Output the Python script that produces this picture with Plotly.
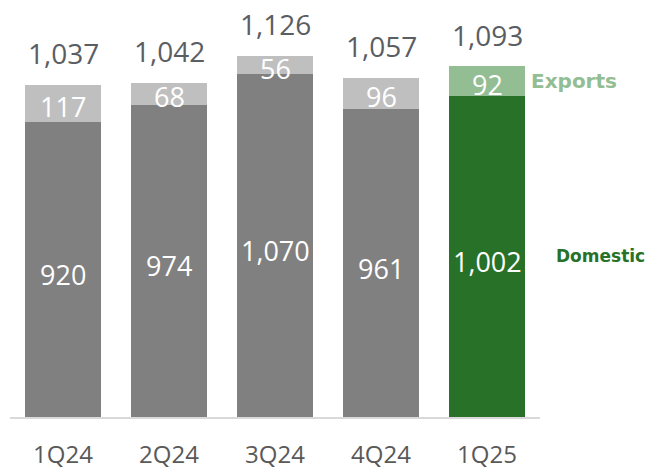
import plotly.graph_objects as go

categories = ["1Q24", "2Q24", "3Q24", "4Q24", "1Q25"]
domestic = [920, 974, 1070, 961, 1002]
exports = [117, 68, 56, 96, 92]
totals = [1037, 1042, 1126, 1057, 1093]

dom_colors = ["#808080"] * 4 + ["#277228"]
exp_colors = ["#bfbfbf"] * 4 + ["#93bd93"]

def fmt(v):
    return f"{v:,}"

fig = go.Figure()
fig.add_trace(go.Bar(x=categories, y=domestic, marker=dict(color=dom_colors, line=dict(width=0)),
                     hoverinfo="skip", name="Domestic"))
fig.add_trace(go.Bar(x=categories, y=exports, marker=dict(color=exp_colors, line=dict(width=0)),
                     hoverinfo="skip", name="Exports"))

lab_font = "Open Sans"
# domestic labels
for c, d in zip(categories, domestic):
    fig.add_annotation(x=c, y=d / 2, text=fmt(d), showarrow=False, yshift=-5,
                       font=dict(family=lab_font, size=27, color="white"))
# exports labels
for c, d, e in zip(categories, domestic, exports):
    fig.add_annotation(x=c, y=d + e / 2, text=fmt(e), showarrow=False, yshift=-3,
                       font=dict(family=lab_font, size=27, color="white"))

for c, t in zip(categories, totals):
    fig.add_annotation(x=c, y=t, text=fmt(t), showarrow=False, yanchor="bottom", yshift=11,
                       font=dict(family=lab_font, size=28, color="#5a5d62"))

# series labels on the right
last = categories[-1]
fig.add_annotation(x=last, y=domestic[-1] + exports[-1] / 2, text="<b>Exports</b>", showarrow=False,
                   xanchor="left", xshift=42, font=dict(family="DejaVu Sans", size=20, color="#93bd93"))
fig.add_annotation(x=last, y=domestic[-1] / 2, text="<b>Domestic</b>", showarrow=False,
                   xanchor="left", xshift=67, font=dict(family="DejaVu Sans", size=17, color="#277228"))

fig.update_layout(
    width=656, height=469, barmode="stack", bargap=0.28,
    margin=dict(l=10, r=116, t=10, b=52, autoexpand=False),
    plot_bgcolor="white", paper_bgcolor="white", showlegend=False,
    xaxis=dict(range=[-0.5, 4.5], automargin=False, showline=True, linecolor="#d9d9d9", linewidth=2,
               ticks="outside", ticklen=15,
               tickcolor="rgba(0,0,0,0)", tickfont=dict(family=lab_font, size=24, color="#595959"),
               fixedrange=True),
    yaxis=dict(range=[0, 1270], visible=False, showgrid=False, zeroline=False, fixedrange=True,
               automargin=False),
)

fig.write_html("out.html")
